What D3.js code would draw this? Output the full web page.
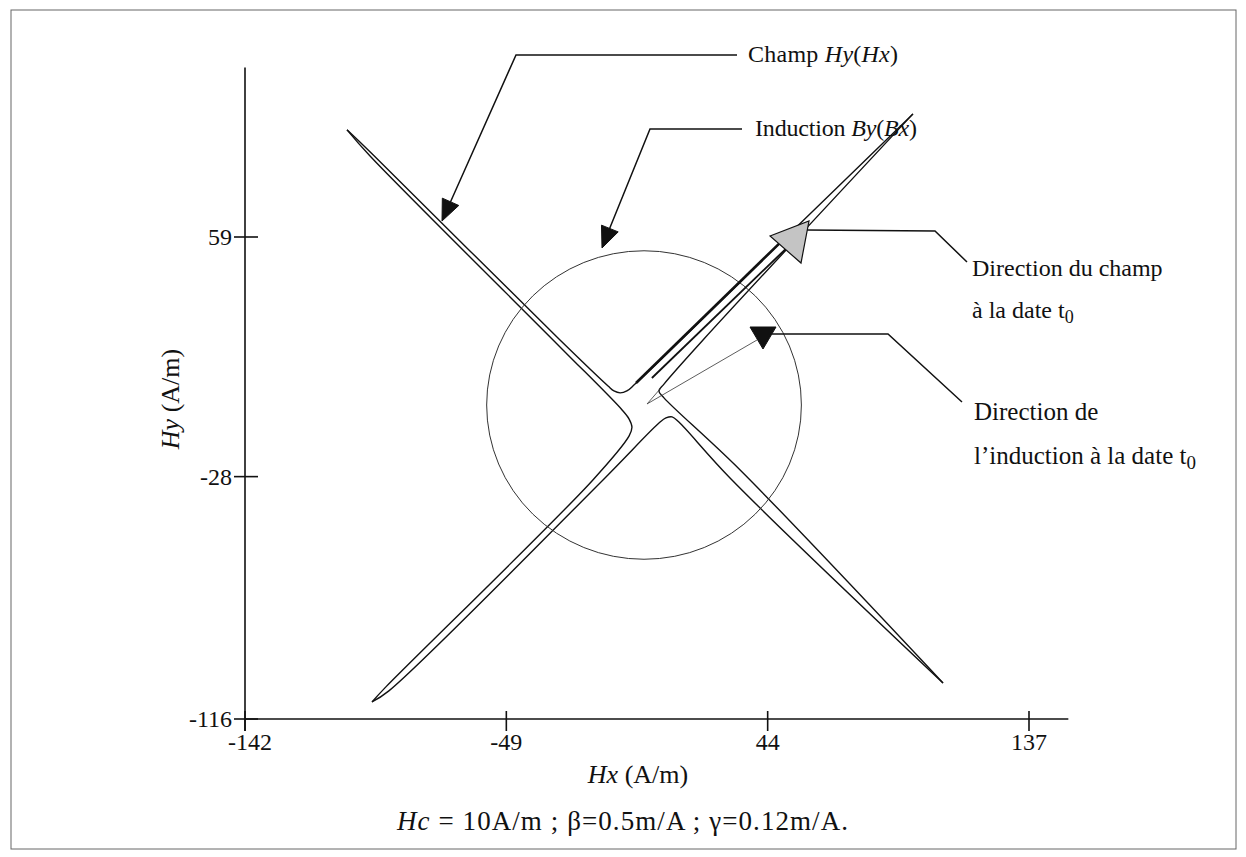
<!DOCTYPE html>
<html><head><meta charset="utf-8">
<script src="https://cdn.jsdelivr.net/npm/d3@7"></script>
<style>
html,body{margin:0;padding:0;background:#fff;}
svg text{font-family:"Liberation Serif","Times New Roman",serif;fill:#111;}
</style></head>
<body>
<svg id="c" width="1246" height="857"></svg>
<script>
// ---- data (A/m) ----
const xTicks = [-142, -49, 44, 137];
const yTicks = [-116, -28, 59];
const xAxisMax = 151;
const yAxisMax = 120.5;

// Hy(Hx): four branches of the field curve
const upperBranch = [[-105.7,97.9],[-96.8,89.2],[-29.9,21.6],[-12.8,4.9],[-10.7,3.1],[-8.5,2.4],[-6.1,3.1],[-3.2,5.6],[49.5,57.9],[95.7,103.7]];
const leftBranch  = [[-105.7,97.9],[-97.5,88.4],[-29.9,19.1],[-7.8,-3.8],[-5.3,-7.1],[-4.3,-10.0],[-5.3,-13.2],[-18.2,-29.2],[-92.2,-104.7],[-96.8,-109.8]];
const lowerBranch = [[-96.8,-109.8],[-90.8,-105.8],[-14.6,-29.2],[5.7,-8.2],[7.8,-6.7],[10.0,-6.3],[12.4,-8.2],[30.6,-28.5],[106.4,-102.9]];
const rightBranch = [[95.7,103.7],[21.0,21.6],[7.1,5.6],[5.3,3.1],[7.1,0.6],[34.2,-25.6],[106.4,-102.9]];

// By(Bx): induction locus (centre and radius)
const inductionCentre = [0, -2];
const inductionRadius = 56;

// direction of field at t0 (double shaft) and of induction at t0 (thin wedge)
const fieldShaftA = [[-2.85,6.0],[50.2,58.7]];
const fieldShaftB = [[2.8,7.8],[53.7,57.9]];
const inductionDir = [[5.7,3.8],[1.1,-1.6],[40.2,21.6]];

// ---- drawing ----
const svg = d3.select("#c");
const x = d3.scaleLinear().domain([-142, 137]).range([245, 1029]);
const y = d3.scaleLinear().domain([-116, 59]).range([719, 237]);

// frame
svg.append("rect").attr("x",11).attr("y",10).attr("width",1225).attr("height",839)
  .attr("fill","none").attr("stroke","#666").attr("stroke-width",1);

// axes
const ax = svg.append("g").attr("stroke","#111").attr("stroke-width",1.6);
ax.append("line").attr("x1",x(-142)).attr("x2",x(xAxisMax)).attr("y1",y(-116)).attr("y2",y(-116));
ax.append("line").attr("x1",x(-142)).attr("x2",x(-142)).attr("y1",y(-116)+12).attr("y2",y(yAxisMax));
xTicks.forEach(t=>{
  ax.append("line").attr("x1",x(t)).attr("x2",x(t)).attr("y1",y(-116)-8).attr("y2",y(-116)+12);
});
yTicks.forEach(t=>{
  ax.append("line").attr("x1",x(-142)-11).attr("x2",x(-142)+13).attr("y1",y(t)).attr("y2",y(t));
});
const fs = 24;
svg.append("g").selectAll("text").data(xTicks).join("text")
  .attr("x",d=>x(d)+(d<-100?5:0)).attr("y",y(-116)+31).attr("text-anchor","middle").attr("font-size",fs)
  .text(d=>d);
svg.append("g").selectAll("text").data(yTicks).join("text")
  .attr("x",x(-142)-13).attr("y",d=>y(d)+8).attr("text-anchor","end").attr("font-size",fs)
  .text(d=>d);

// axis titles
const xt = svg.append("text").attr("x",638).attr("y",783).attr("text-anchor","middle").attr("font-size",26);
xt.append("tspan").attr("font-style","italic").text("Hx");
xt.append("tspan").text(" (A/m)");
const yt = svg.append("text").attr("transform","translate(179,399) rotate(-90)").attr("text-anchor","middle").attr("font-size",26);
yt.append("tspan").attr("font-style","italic").text("Hy");
yt.append("tspan").text(" (A/m)");

// caption
const cap = svg.append("text").attr("x",397).attr("y",830).attr("font-size",27)
  .attr("textLength",451).attr("lengthAdjust","spacing");
cap.append("tspan").attr("font-style","italic").text("Hc");
cap.append("tspan").text(" = 10A/m ; \u03B2=0.5m/A ; \u03B3=0.12m/A.");

// curves
const line = d3.line().x(d=>x(d[0])).y(d=>y(d[1])).curve(d3.curveCatmullRom.alpha(0.5));
const straight = d3.line().x(d=>x(d[0])).y(d=>y(d[1]));
const g = svg.append("g").attr("fill","none").attr("stroke","#111").attr("stroke-linejoin","round");
[upperBranch,leftBranch,lowerBranch,rightBranch].forEach(b=>{
  g.append("path").attr("d",line(b)).attr("stroke-width",1.4);
});
// induction circle
g.append("ellipse").attr("cx",x(inductionCentre[0])).attr("cy",y(inductionCentre[1]))
  .attr("rx",x(inductionCentre[0]+inductionRadius)-x(inductionCentre[0]))
  .attr("ry",y(inductionCentre[1])-y(inductionCentre[1]+inductionRadius))
  .attr("stroke","#333").attr("stroke-width",1);
// field direction shafts
g.append("path").attr("d",straight(fieldShaftA)).attr("stroke-width",2.6);
g.append("path").attr("d",straight(fieldShaftB)).attr("stroke-width",1.8);
// induction direction wedge
g.append("path").attr("d",straight(inductionDir)).attr("stroke-width",0.8).attr("stroke","#333");

// ---- annotations (layout, px) ----
function arrowHead(tip, from, len, half, fill){
  const dx = tip[0]-from[0], dy = tip[1]-from[1];
  const L = Math.hypot(dx,dy), ux = dx/L, uy = dy/L;
  const bx = tip[0]-ux*len, by = tip[1]-uy*len;
  const pts = [tip,[bx-uy*half,by+ux*half],[bx+uy*half,by-ux*half]];
  svg.append("polygon").attr("points",pts.map(p=>p.join(",")).join(" "))
    .attr("fill",fill).attr("stroke","#111").attr("stroke-width",1);
}
const ann = svg.append("g").attr("fill","none").attr("stroke","#111").attr("stroke-width",1.5);
// Champ Hy(Hx)
ann.append("polyline").attr("points","737,55 516,55 450,203");
arrowHead([442,221],[516,55],21,9,"#111");
const t1 = svg.append("text").attr("x",748).attr("y",62).attr("font-size",fs)
  .attr("textLength",150).attr("lengthAdjust","spacing");
t1.append("tspan").text("Champ ");
t1.append("tspan").attr("font-style","italic").text("Hy");
t1.append("tspan").text("(");
t1.append("tspan").attr("font-style","italic").text("Hx");
t1.append("tspan").text(")");
// Induction By(Bx)
ann.append("polyline").attr("points","742,129 650,129 609,230");
arrowHead([602,248],[650,129],21,9,"#111");
const t2 = svg.append("text").attr("x",755).attr("y",136).attr("font-size",fs)
  .attr("textLength",162).attr("lengthAdjust","spacing");
t2.append("tspan").text("Induction ");
t2.append("tspan").attr("font-style","italic").text("By");
t2.append("tspan").text("(");
t2.append("tspan").attr("font-style","italic").text("Bx");
t2.append("tspan").text(")");
// Direction du champ
ann.append("polyline").attr("points","806,230 935,231 967,262");
svg.append("polygon").attr("points","770,236 809,221 801,263").attr("fill","#c4c4c4").attr("stroke","#111").attr("stroke-width",1.2);
svg.append("text").attr("x",972).attr("y",276).attr("font-size",fs).text("Direction du champ");
const t3 = svg.append("text").attr("x",972).attr("y",318).attr("font-size",fs);
t3.append("tspan").text("\u00E0 la date t");
t3.append("tspan").attr("font-size",fs*0.75).attr("dy",5).text("0");
// Direction de l'induction
ann.append("polyline").attr("points","772,334 888,334 962,402");
svg.append("polygon").attr("points","750,327 776,327 763,349").attr("fill","#111").attr("stroke","#111").attr("stroke-width",1);
svg.append("text").attr("x",974).attr("y",420).attr("font-size",25).text("Direction de");
const t4 = svg.append("text").attr("x",974).attr("y",464).attr("font-size",25);
t4.append("tspan").text("l\u2019induction \u00E0 la date t");
t4.append("tspan").attr("font-size",19).attr("dy",5).text("0");
</script>
</body></html>
